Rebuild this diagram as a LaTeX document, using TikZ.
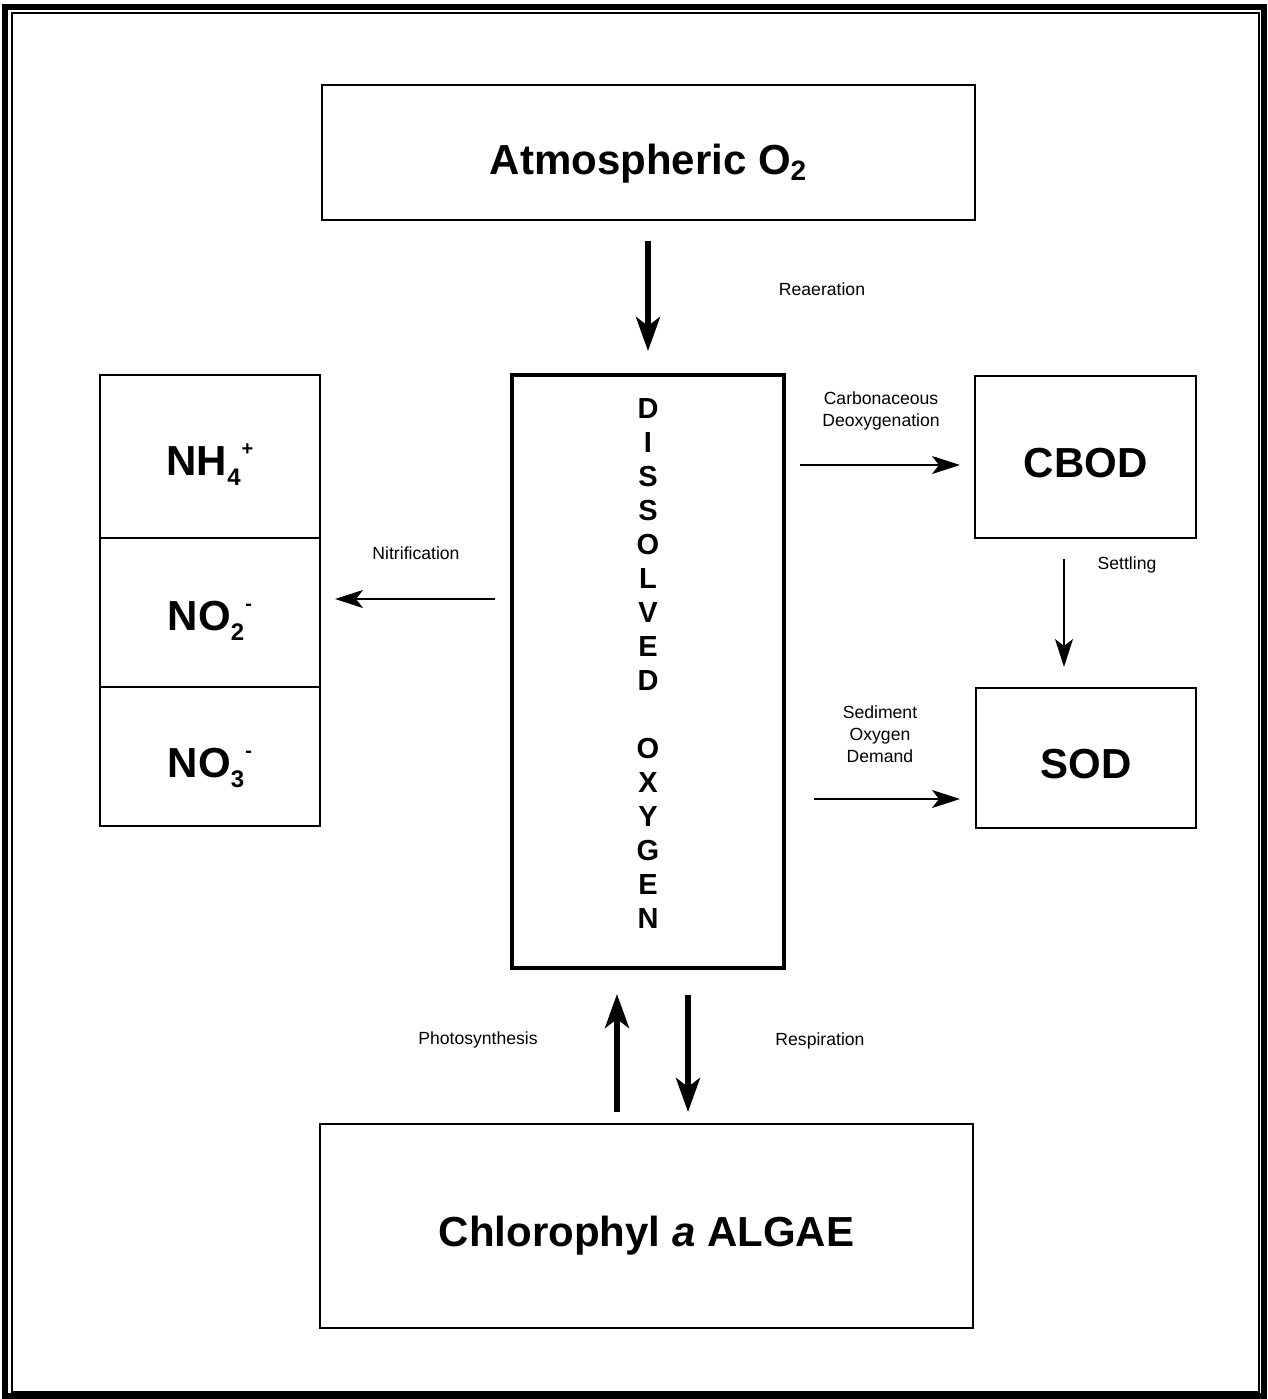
\documentclass[tikz,border=0pt]{standalone}
\usepackage{fontspec}
\setmainfont{Liberation Sans}
\usetikzlibrary{arrows.meta}

\newcommand{\chemsub}[2][-5pt]{\raisebox{#1}{\fontsize{12}{12}\selectfont #2}}
\newcommand{\chemsup}[1]{\kern0.5pt\raisebox{10pt}{\fontsize{10}{10}\selectfont #1}}

\begin{document}
\begin{tikzpicture}[x=0.5pt, y=-0.5pt]
    \tikzstyle{every node}=[align=center, inner sep=0pt]
    \tikzstyle{box}=[draw=black, line width=1pt, text depth=0pt]
    \tikzstyle{big}=[font=\fontsize{21}{25}\selectfont\bfseries]
    \tikzstyle{lbl}=[font=\fontsize{8.8}{11}\selectfont]
    \tikzstyle{flow}=[line width=2.75pt, -{Stealth[length=17pt, width=12pt, inset=4.5pt]}]
    \tikzstyle{thinflow}=[line width=1pt, -{Stealth[length=14pt, width=9pt, inset=3.5pt]}]

    \useasboundingbox (0,0) rectangle (1268,1399);
    % The frame:
    \draw[line width=3pt] (5,7) rectangle (1264,1396);
    \draw[line width=1pt] (12,13) rectangle (1259,1392);

    % The boxes:
    \node[box, big, minimum width=326.5pt, minimum height=67.5pt, text height=22pt] (atmos) at (648,152)
        {Atmospheric O\chemsub[-3pt]{\fontsize{14}{14}\selectfont 2}};
    \node[draw=black, line width=2pt, minimum width=136pt, minimum height=296.5pt] (dox) at (648,671.5) {};
    \node[font=\fontsize{14.5}{17}\selectfont\bfseries] (dotext) at (648,663.5)
        {D\\I\\S\\S\\O\\L\\V\\E\\D\\[17pt]O\\X\\Y\\G\\E\\N};
    \node[box, big, minimum width=110pt, minimum height=81.5pt, text height=18.5pt] (nhfour) at (210,456.5)
        {NH\chemsub{4}\chemsup{+}};
    \node[box, big, minimum width=110pt, minimum height=74.5pt, text height=17.5pt] (notwo) at (210,612.5)
        {NO\chemsub{2}\chemsup{-}};
    \node[box, big, minimum width=110pt, minimum height=69.5pt, text height=20.5pt] (nothree) at (210,756.5)
        {NO\chemsub{3}\chemsup{-}};
    \node[box, big, minimum width=110.5pt, minimum height=81pt, text height=20pt] (cbod) at (1085.5,457) {CBOD};
    \node[box, big, minimum width=110pt, minimum height=70pt, text height=20pt] (sod) at (1086,758) {SOD};
    \node[box, big, minimum width=326.5pt, minimum height=102pt, text height=20pt] (algae) at (646.5,1226)
        {Chlorophyl \textit{a} ALGAE};

    % The arrow ends:
    \coordinate (nit start) at (495,599);
    \coordinate (nit end) at (335,599);
    \coordinate (carb start) at (800,465);
    \coordinate (carb end) at (960,465);
    \coordinate (sed start) at (814,799);
    \coordinate (sed end) at (960,799);

    \draw[flow] ([yshift=-10pt]atmos.south) -- ([yshift=11pt]dox.north);
    \draw[thinflow] (nit start) -- (nit end);
    \draw[thinflow] (carb start) -- (carb end);
    \draw[thinflow] ([xshift=-10.75pt, yshift=-10pt]cbod.south) -- ([xshift=-11pt, yshift=10pt]sod.north);
    \draw[thinflow] (sed start) -- (sed end);
    \draw[flow] ([xshift=-14.75pt, yshift=5.5pt]algae.north) -- ([xshift=-15.5pt, yshift=-12pt]dox.south);
    \draw[flow] ([xshift=20pt, yshift=-12.5pt]dox.south) -- ([xshift=20.75pt, yshift=5.5pt]algae.north);

    % The labels:
    \node[lbl] (rea) at (822,289) {Reaeration};
    \node[lbl] (carb) at (881,411) {Carbonaceous\\Deoxygenation};
    \node[lbl] (nit) at (416,553) {Nitrification};
    \node[lbl] (settle) at (1127,565) {Settling};
    \node[lbl] (sedi) at (880,734) {Sediment\\Oxygen\\Demand};
    \node[lbl] (photo) at (478,1040) {Photosynthesis};
    \node[lbl] (resp) at (820,1041) {Respiration};
\end{tikzpicture}
\end{document}
